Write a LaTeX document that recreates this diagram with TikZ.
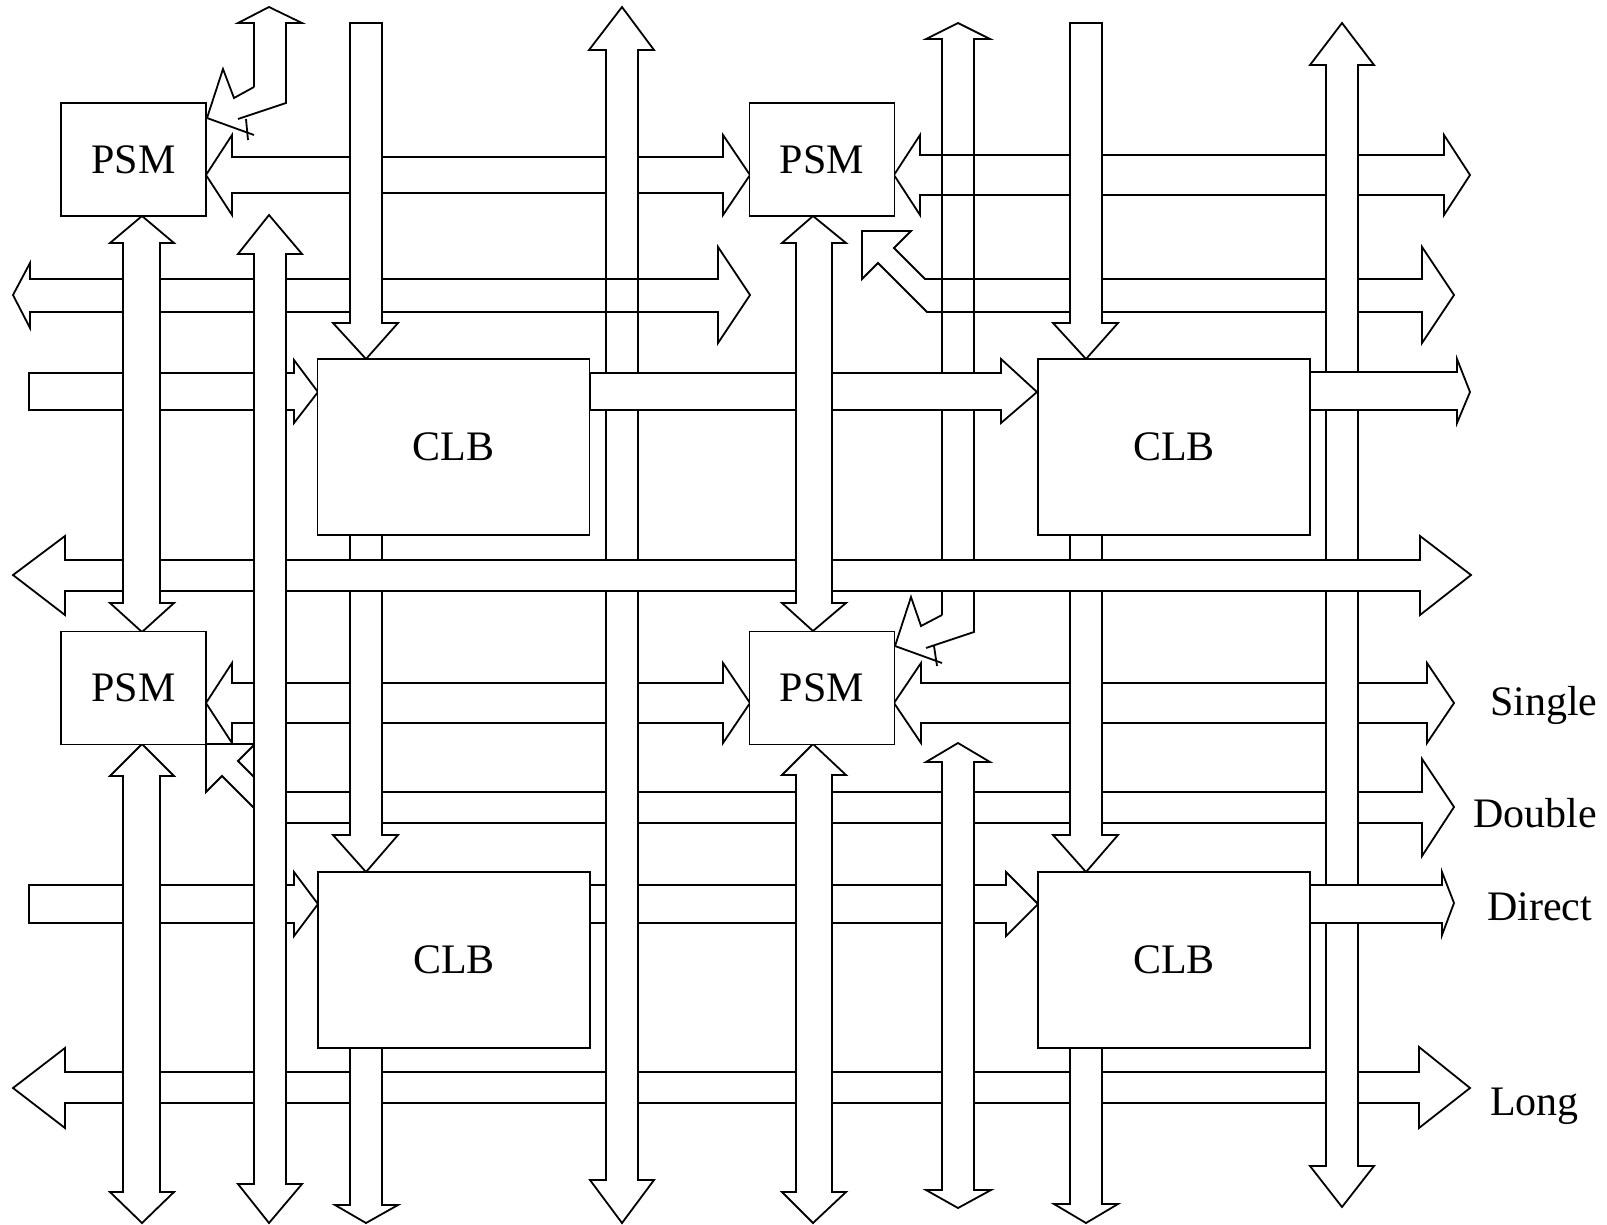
\documentclass[tikz,border=0pt]{standalone}
\usepackage{fontspec}
\setmainfont{Liberation Serif}
\usetikzlibrary{positioning}

\begin{document}
\begin{tikzpicture}[
  x=1pt, y=-1pt,
  bus/.style={draw, fill=white, line width=1.8pt, line join=miter},
  wire/.style={draw, line width=1.8pt, line join=miter},
  blk/.style={draw, fill=white, line width=1.8pt, inner sep=0pt, outer sep=0pt,
              font=\fontsize{42}{48}\selectfont},
  psm/.style={blk, minimum width=145pt, minimum height=113pt},
  clb/.style={blk, minimum width=272pt, minimum height=176pt},
  lbl/.style={anchor=base west, inner sep=0pt, font=\fontsize{42}{48}\selectfont}
]
\useasboundingbox (0,0) rectangle (1607,1224);

\draw[bus] (206,175) -- (232,135) -- (232,157) -- (723,157) -- (723,135) -- (750,175)
  -- (723,215) -- (723,193) -- (232,193) -- (232,215) -- cycle;
\draw[bus] (894,175) -- (920,135) -- (920,155) -- (1444,155) -- (1444,135) -- (1470,175)
  -- (1444,215) -- (1444,195) -- (920,195) -- (920,215) -- cycle;
\draw[bus] (862,231) -- (911,231) -- (894,248) -- (925,279) -- (1422,279) -- (1422,247)
  -- (1454,295) -- (1422,343) -- (1422,312) -- (927,312) -- (878,263) -- (862,279) -- cycle;
\draw[bus] (206,703) -- (232,663) -- (232,683) -- (723,683) -- (723,663) -- (750,703)
  -- (723,743) -- (723,723) -- (232,723) -- (232,743) -- cycle;
\draw[bus] (894,703) -- (921,663) -- (921,683) -- (1427,683) -- (1427,663) -- (1454,703)
  -- (1427,743) -- (1427,723) -- (921,723) -- (921,743) -- cycle;
\draw[bus] (206,744) -- (255,744) -- (238,761) -- (269,792) -- (1422,792) -- (1422,759)
  -- (1454,807) -- (1422,856) -- (1422,823) -- (269,823) -- (222,776) -- (206,792) -- cycle;
\draw[bus] (13,1088) -- (65,1048) -- (65,1072) -- (1419,1072) -- (1419,1047) -- (1470,1088)
  -- (1419,1128) -- (1419,1103) -- (65,1103) -- (65,1128) -- cycle;

\draw[bus] (1342,23) -- (1374,65) -- (1358,65) -- (1358,1166) -- (1374,1166) -- (1342,1207)
  -- (1310,1166) -- (1326,1166) -- (1326,65) -- (1310,65) -- cycle;

\draw[bus] (29,885) -- (294,885) -- (294,872) -- (318,904) -- (294,936) -- (294,923) -- (29,923) -- cycle;
\draw[bus] (590,885) -- (1006,885) -- (1006,872) -- (1038,904) -- (1006,936) -- (1006,923) -- (590,923) -- cycle;
\draw[bus] (1310,885) -- (1442,885) -- (1442,872) -- (1454,903) -- (1442,935) -- (1442,923) -- (1310,923) -- cycle;

\draw[bus] (622,7) -- (654,50) -- (638,50) -- (638,1180) -- (654,1180) -- (622,1223)
  -- (590,1180) -- (606,1180) -- (606,50) -- (589,50) -- cycle;

\draw[wire] (13,295) -- (30,263) -- (30,279) -- (718,279) -- (718,247) -- (750,295)
  -- (718,343) -- (718,312) -- (30,312) -- (30,328) -- cycle;

\draw[wire] (942,615) -- (942,39) -- (926,39) -- (958,23) -- (990,39) -- (974,39) -- (974,632) -- (926,648);
\draw[wire] (942,615) -- (921,626) -- (911,597) -- (895,646) -- (942,663);
\draw[wire] (934,646) -- (937,666);

\draw[bus] (350,535) -- (382,535) -- (382,835) -- (398,835) -- (366,872) -- (333,835) -- (350,835) -- cycle;
\draw[bus] (1070,535) -- (1102,535) -- (1102,835) -- (1118,835) -- (1086,872) -- (1053,835) -- (1070,835) -- cycle;

\draw[bus] (29,373) -- (294,373) -- (294,360) -- (318,392) -- (294,423) -- (294,410) -- (29,410) -- cycle;
\draw[bus] (590,373) -- (1001,373) -- (1001,359) -- (1037,392) -- (1001,423) -- (1001,410) -- (590,410) -- cycle;
\draw[bus] (1310,372) -- (1457,372) -- (1457,359) -- (1470,392) -- (1457,423) -- (1457,410) -- (1310,410) -- cycle;
\draw[bus] (13,575) -- (65,536) -- (65,560) -- (1420,560) -- (1420,536) -- (1471,575)
  -- (1420,615) -- (1420,591) -- (65,591) -- (65,615) -- cycle;

\draw[bus] (142,216) -- (174,243) -- (160,243) -- (160,603) -- (174,603) -- (142,632)
  -- (110,603) -- (123,603) -- (123,243) -- (110,243) -- cycle;
\draw[bus] (142,744) -- (174,776) -- (160,776) -- (160,1192) -- (174,1192) -- (142,1223)
  -- (110,1192) -- (123,1192) -- (123,776) -- (110,776) -- cycle;
\draw[bus] (269,215) -- (302,254) -- (286,254) -- (286,1184) -- (302,1184) -- (269,1223)
  -- (238,1184) -- (254,1184) -- (254,254) -- (238,254) -- cycle;
\draw[bus] (350,23) -- (382,23) -- (382,323) -- (398,323) -- (366,359) -- (333,323) -- (350,323) -- cycle;
\draw[bus] (350,1048) -- (382,1048) -- (382,1205) -- (398,1205) -- (366,1223) -- (335,1205) -- (350,1205) -- cycle;
\draw[bus] (813,216) -- (846,243) -- (832,243) -- (832,603) -- (846,603) -- (813,631)
  -- (782,603) -- (796,603) -- (796,243) -- (782,243) -- cycle;
\draw[bus] (813,744) -- (846,775) -- (832,775) -- (832,1192) -- (846,1192) -- (813,1223)
  -- (782,1192) -- (796,1192) -- (796,775) -- (782,775) -- cycle;
\draw[bus] (958,743) -- (990,762) -- (974,762) -- (974,1190) -- (991,1190) -- (958,1208)
  -- (926,1190) -- (942,1190) -- (942,762) -- (926,762) -- cycle;
\draw[bus] (1070,23) -- (1102,23) -- (1102,323) -- (1118,323) -- (1086,359) -- (1053,323) -- (1070,323) -- cycle;
\draw[bus] (1070,1048) -- (1102,1048) -- (1102,1204) -- (1118,1204) -- (1086,1223) -- (1054,1204) -- (1070,1204) -- cycle;

\node[psm] (psm1) at (133.5,159.5) {PSM};
\node[psm] (psm2) at (822,159.5) {PSM};
\node[psm] (psm3) at (133.5,688) {PSM};
\node[psm] (psm4) at (822,688) {PSM};
\node[clb] (clb1) at (453.5,447) {CLB};
\node[clb] (clb2) at (1174,447) {CLB};
\node[clb] (clb3) at (454,960) {CLB};
\node[clb] (clb4) at (1174,960) {CLB};

\draw[wire] (254,87) -- (254,23) -- (238,23) -- (269,7) -- (302,23) -- (286,23) -- (286,103) -- (238,119);
\draw[wire] (254,87) -- (234,98) -- (223,69) -- (207,118) -- (254,135);
\draw[wire] (246,119) -- (248,140);

\node[lbl] (single) at (1490,715) {Single};
\node[lbl] (double) at (1473,827) {Double};
\node[lbl] (direct) at (1487,920) {Direct};
\node[lbl] (long)   at (1490,1115) {Long};
\end{tikzpicture}
\end{document}
